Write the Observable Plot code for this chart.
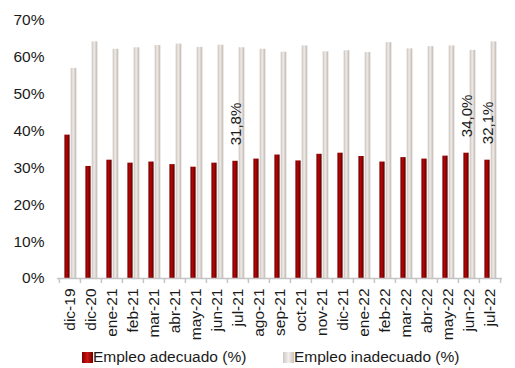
<!DOCTYPE html>
<html>
<head>
<meta charset="utf-8">
<script src="https://cdn.jsdelivr.net/npm/d3@7"></script>
<script src="https://cdn.jsdelivr.net/npm/@observablehq/plot@0.6"></script>
<style>
  html, body { margin: 0; padding: 0; background: #fff; }
  #wrap { position: relative; width: 515px; height: 368px; font-family: "Liberation Sans", Arial, sans-serif; }
  #legend { position: absolute; left: 0; top: 347px; width: 515px; height: 20px; font-size: 15.5px; color: #1a1a1a; }
  .item { position: absolute; top: 0; white-space: nowrap; line-height: 20px; }
  .sw { display: inline-block; width: 11px; height: 11px; vertical-align: -1px; }
</style>
</head>
<body>
<div id="wrap">
  <div id="chart"></div>
  <div id="legend">
    <span class="item" style="left:82px"><span class="sw" style="background:linear-gradient(90deg,#7a0000,#d01515 50%,#6a0000)"></span>Empleo adecuado (%)</span>
    <span class="item" style="left:283px"><span class="sw" style="background:linear-gradient(90deg,#cfc8c3,#f2efed 50%,#c9c1bb)"></span>Empleo inadecuado (%)</span>
  </div>
</div>
<script>
const months = ["dic-19","dic-20","ene-21","feb-21","mar-21","abr-21","may-21","jun-21","jul-21","ago-21","sep-21","oct-21","nov-21","dic-21","ene-22","feb-22","mar-22","abr-22","may-22","jun-22","jul-22"];
const adecuado = [38.9,30.4,32.1,31.3,31.6,30.9,30.2,31.3,31.8,32.4,33.5,31.9,33.7,34.0,33.1,31.6,32.8,32.4,33.2,34.0,32.1];
const inadecuado = [57.0,64.2,62.2,62.6,63.2,63.6,62.7,63.3,62.6,62.2,61.4,63.1,61.5,61.8,61.3,64.0,62.3,62.9,63.1,61.9,64.2];
const labelMonths = ["jul-21","jun-22","jul-22"];
const labelTexts = ["31,8%","34,0%","32,1%"];
const yTicks = [0,10,20,30,40,50,60,70];

const adData = months.map((m,i) => ({mes: m, v: adecuado[i]}));
const inData = months.map((m,i) => ({mes: m, v: inadecuado[i]}));
const lblData = labelMonths.map((m,i) => ({mes: m, v: adecuado[months.indexOf(m)], t: labelTexts[i]}));

const W = 515, H = 345, mL = 57, mR = 13;
const bw = (W - mL - mR) / months.length;

const chart = Plot.plot({
  width: W,
  height: H,
  marginLeft: mL,
  marginRight: mR,
  marginTop: 20,
  marginBottom: 67,
  style: {fontFamily: "'Liberation Sans', Arial, sans-serif", fontSize: "15px", color: "#1a1a1a", background: "#fff"},
  x: {domain: months, padding: 0, axis: null, label: null},
  y: {domain: [0, 70], axis: null, label: null},
  marks: [
    Plot.barY(inData, {x: "mes", y: "v", fill: "url(#gGrey)", insetLeft: 11.7, insetRight: 3.7}),
    Plot.barY(adData, {x: "mes", y: "v", fill: "url(#gRed)", insetLeft: 5.4, insetRight: 10.4}),
    Plot.ruleY([0], {stroke: "#c4c4c4", strokeWidth: 1.5}),
    Plot.axisX({tickSize: 5, tickFormat: () => "", dx: -bw/2, stroke: "#c4c4c4", strokeWidth: 1.5, label: null}),
    Plot.axisX([months[months.length-1]], {tickSize: 5, tickFormat: () => "", dx: bw/2, stroke: "#c4c4c4", strokeWidth: 1.5, label: null}),
    Plot.axisX({tickSize: 0, tickPadding: 10, tickRotate: -90, fontSize: 15.5, fill: "#1a1a1a", label: null}),
    Plot.axisY(yTicks, {tickSize: 0, tickPadding: 13, tickFormat: d => d + "%", fontSize: 15.5, fill: "#1a1a1a", label: null}),
    Plot.text(lblData, {x: "mes", y: "v", text: "t", rotate: -90, textAnchor: "start", dy: -16, dx: -2, fontSize: 15, fill: "#1a1a1a"})
  ]
});

const svg = d3.select(chart);
const defs = svg.insert("defs", ":first-child");
const gr = defs.append("linearGradient").attr("id", "gRed").attr("x1", "0").attr("x2", "1").attr("y1", "0").attr("y2", "0");
gr.append("stop").attr("offset", "0%").attr("stop-color", "#6a0000");
gr.append("stop").attr("offset", "45%").attr("stop-color", "#bb0505");
gr.append("stop").attr("offset", "60%").attr("stop-color", "#a00000");
gr.append("stop").attr("offset", "100%").attr("stop-color", "#4a0000");
const gg = defs.append("linearGradient").attr("id", "gGrey").attr("x1", "0").attr("x2", "1").attr("y1", "0").attr("y2", "0");
gg.append("stop").attr("offset", "0%").attr("stop-color", "#c9c1bb");
gg.append("stop").attr("offset", "45%").attr("stop-color", "#efebe8");
gg.append("stop").attr("offset", "100%").attr("stop-color", "#bfb6b0");

document.getElementById("chart").appendChild(chart);
</script>
</body>
</html>
